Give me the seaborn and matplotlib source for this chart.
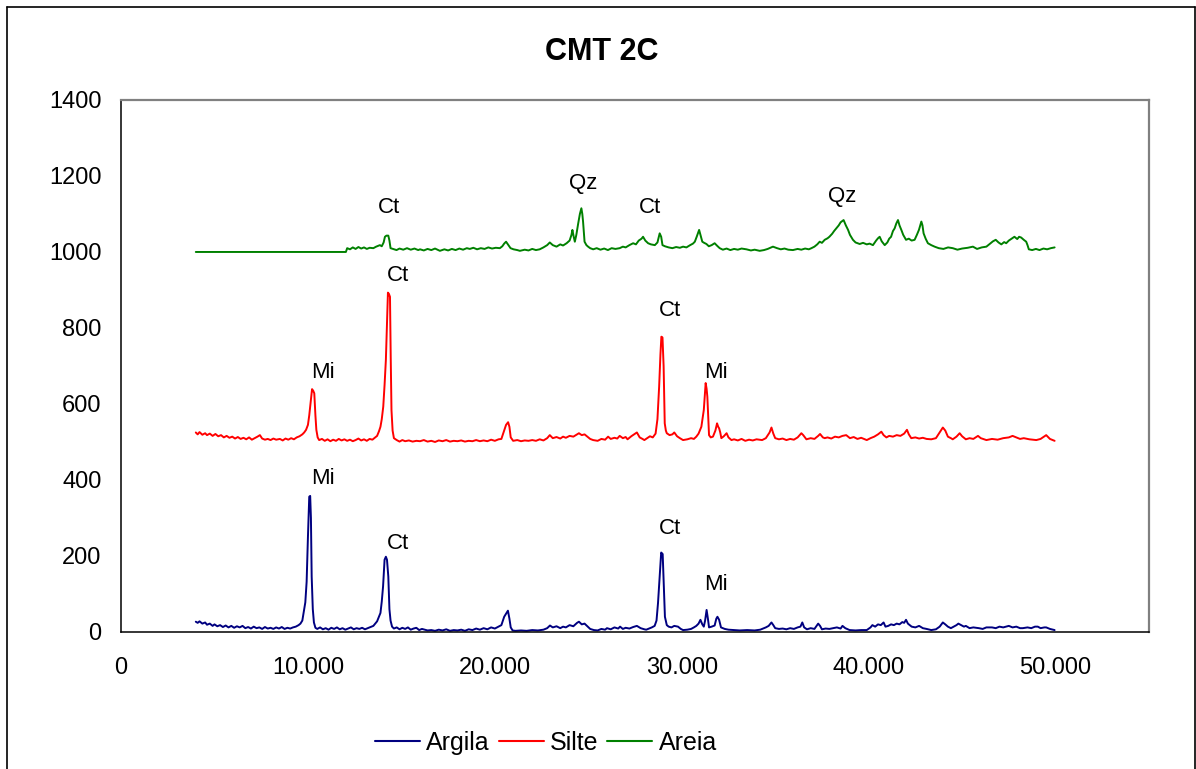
import pandas as pd
import numpy as np
from matplotlib import pyplot as plt
from matplotlib.lines import Line2D
import seaborn as sns

argila_2theta = [4.0, 4.1, 4.2, 4.35, 4.5, 4.6, 4.75, 4.9, 5.0, 5.15, 5.3, 5.45, 5.6, 5.75, 5.9, 6.05, 6.2, 6.35, 6.5, 6.65,
                 6.8, 6.95, 7.1, 7.25, 7.4, 7.55, 7.7, 7.85, 8.0, 8.15, 8.3, 8.45, 8.6, 8.75, 8.9, 9.05, 9.2, 9.35, 9.5, 9.6,
                 9.7, 9.8, 9.86, 9.93, 10.0, 10.07, 10.12, 10.16, 10.2, 10.26, 10.32, 10.4, 10.5, 10.65, 10.8, 10.95, 11.1, 11.25, 11.4, 11.55,
                 11.7, 11.85, 12.0, 12.15, 12.3, 12.45, 12.6, 12.75, 12.9, 13.05, 13.2, 13.35, 13.5, 13.6, 13.7, 13.8, 13.88, 13.95, 14.02, 14.1,
                 14.17, 14.23, 14.3, 14.36, 14.42, 14.5, 14.6, 14.75, 14.9, 15.05, 15.2, 15.35, 15.5, 15.65, 15.8, 15.95, 16.1, 16.25, 16.4, 16.6,
                 16.8, 17.0, 17.2, 17.4, 17.6, 17.8, 18.0, 18.2, 18.4, 18.6, 18.8, 19.0, 19.2, 19.4, 19.6, 19.8, 20.0, 20.2, 20.35, 20.5,
                 20.6, 20.7, 20.78, 20.85, 20.95, 21.1, 21.4, 21.7, 22.0, 22.3, 22.6, 22.8, 22.95, 23.1, 23.3, 23.5, 23.65, 23.8, 24.0, 24.2,
                 24.4, 24.5, 24.65, 24.8, 24.95, 25.1, 25.3, 25.5, 25.7, 25.9, 26.0, 26.2, 26.4, 26.6, 26.7, 26.85, 27.0, 27.2, 27.4, 27.6,
                 27.8, 28.0, 28.1, 28.25, 28.4, 28.55, 28.65, 28.73, 28.82, 28.9, 28.98, 29.04, 29.1, 29.2, 29.3, 29.45, 29.6, 29.8, 29.95, 30.07,
                 30.3, 30.5, 30.65, 30.78, 30.9, 31.0, 31.1, 31.18, 31.25, 31.33, 31.4, 31.46, 31.6, 31.76, 31.85, 31.91, 32.0, 32.1, 32.3, 32.5,
                 32.8, 33.1, 33.5, 33.9, 34.2, 34.5, 34.65, 34.8, 34.9, 35.0, 35.2, 35.4, 35.6, 35.8, 36.0, 36.2, 36.35, 36.45, 36.55, 36.7,
                 36.9, 37.1, 37.3, 37.4, 37.5, 37.7, 37.9, 38.1, 38.3, 38.5, 38.6, 38.75, 38.98, 39.3, 39.6, 39.9, 40.1, 40.2, 40.35, 40.5,
                 40.65, 40.8, 40.9, 41.05, 41.2, 41.35, 41.5, 41.65, 41.8, 41.9, 42.0, 42.1, 42.3, 42.5, 42.7, 42.9, 43.1, 43.35, 43.6, 43.8,
                 43.97, 44.1, 44.24, 44.4, 44.55, 44.7, 44.8, 44.95, 45.1, 45.2, 45.4, 45.6, 45.9, 46.1, 46.3, 46.6, 46.8, 47.0, 47.2, 47.5,
                 47.7, 47.9, 48.1, 48.25, 48.5, 48.7, 48.9, 49.05, 49.2, 49.4, 49.5, 49.7, 49.95]
argila_counts = [27, 24, 28, 22, 25, 19, 22, 16, 20, 15, 18, 13, 17, 12, 16, 11, 15, 12, 16, 10,
                 13, 9, 14, 10, 12, 8, 13, 9, 11, 8, 12, 9, 13, 8, 11, 9, 12, 14, 18, 22,
                 30, 60, 78, 132, 250, 356, 358, 300, 146, 60, 25, 11, 8, 12, 7, 10, 6, 11, 8, 12,
                 7, 10, 6, 9, 12, 7, 10, 8, 11, 7, 10, 13, 16, 22, 28, 40, 50, 80, 120, 190,
                 198, 190, 146, 60, 30, 14, 9, 12, 7, 11, 8, 12, 6, 9, 11, 5, 8, 6, 4, 5,
                 3, 6, 4, 7, 3, 5, 4, 6, 3, 7, 5, 9, 6, 10, 7, 12, 9, 14, 18, 40,
                 48, 56, 35, 12, 4, 3, 4, 3, 5, 4, 6, 10, 17, 12, 15, 10, 14, 12, 18, 15,
                 24, 27, 20, 22, 15, 8, 5, 4, 8, 6, 10, 7, 12, 9, 14, 8, 11, 9, 13, 16,
                 10, 7, 6, 9, 12, 16, 30, 76, 146, 209, 205, 120, 40, 18, 14, 12, 16, 14, 8, 5,
                 6, 8, 12, 16, 22, 32, 20, 14, 30, 58, 35, 12, 14, 17, 35, 40, 32, 12, 8, 6,
                 5, 4, 5, 4, 6, 12, 16, 25, 18, 10, 8, 9, 7, 10, 8, 12, 14, 25, 12, 7,
                 10, 8, 22, 16, 7, 9, 8, 10, 12, 9, 16, 10, 5, 4, 5, 5, 12, 18, 14, 20,
                 18, 25, 14, 16, 20, 18, 22, 20, 26, 24, 32, 22, 14, 12, 16, 10, 8, 5, 7, 14,
                 25, 20, 14, 10, 14, 18, 22, 18, 14, 16, 10, 12, 10, 8, 12, 12, 10, 14, 12, 16,
                 12, 14, 10, 10, 12, 10, 14, 14, 10, 12, 12, 8, 5]

silte_2theta = [4.0, 4.1, 4.2, 4.35, 4.5, 4.6, 4.75, 4.9, 5.05, 5.2, 5.35, 5.5, 5.65, 5.8, 5.95, 6.1, 6.25, 6.4, 6.55, 6.7,
                6.85, 7.0, 7.15, 7.3, 7.43, 7.55, 7.7, 7.85, 8.0, 8.15, 8.3, 8.5, 8.65, 8.8, 8.95, 9.1, 9.25, 9.4, 9.55, 9.7,
                9.8, 9.9, 10.0, 10.07, 10.14, 10.22, 10.28, 10.34, 10.4, 10.45, 10.52, 10.6, 10.75, 10.9, 11.05, 11.2, 11.35, 11.5, 11.65, 11.8,
                11.95, 12.1, 12.25, 12.4, 12.55, 12.7, 12.85, 13.0, 13.15, 13.3, 13.45, 13.6, 13.7, 13.8, 13.88, 13.95, 14.03, 14.1, 14.17, 14.22,
                14.28, 14.33, 14.39, 14.43, 14.47, 14.53, 14.6, 14.75, 14.9, 15.05, 15.2, 15.4, 15.6, 15.8, 16.0, 16.2, 16.4, 16.6, 16.8, 17.0,
                17.2, 17.4, 17.6, 17.8, 18.0, 18.2, 18.4, 18.6, 18.8, 19.0, 19.2, 19.4, 19.6, 19.8, 20.0, 20.2, 20.35, 20.5, 20.6, 20.71,
                20.78, 20.85, 20.98, 21.2, 21.4, 21.6, 21.8, 22.0, 22.2, 22.4, 22.6, 22.8, 22.94, 23.1, 23.3, 23.5, 23.65, 23.8, 24.0, 24.2,
                24.4, 24.5, 24.65, 24.8, 24.95, 25.1, 25.26, 25.5, 25.7, 25.9, 26.06, 26.2, 26.4, 26.55, 26.68, 26.85, 27.0, 27.1, 27.3, 27.45,
                27.6, 27.75, 27.9, 28.0, 28.15, 28.3, 28.45, 28.6, 28.7, 28.79, 28.86, 28.91, 28.97, 29.03, 29.09, 29.15, 29.2, 29.35, 29.5, 29.6,
                29.75, 29.9, 30.07, 30.3, 30.5, 30.65, 30.78, 30.9, 31.05, 31.18, 31.28, 31.33, 31.37, 31.42, 31.46, 31.55, 31.67, 31.8, 31.89, 31.95,
                32.0, 32.06, 32.12, 32.25, 32.4, 32.5, 32.66, 32.8, 33.0, 33.2, 33.4, 33.6, 33.8, 34.0, 34.3, 34.5, 34.7, 34.8, 34.9, 35.0,
                35.2, 35.4, 35.6, 35.8, 36.0, 36.2, 36.4, 36.5, 36.67, 36.9, 37.1, 37.3, 37.4, 37.55, 37.65, 37.8, 38.0, 38.2, 38.4, 38.6,
                38.8, 39.0, 39.2, 39.4, 39.6, 39.9, 40.1, 40.3, 40.5, 40.68, 40.8, 40.95, 41.1, 41.3, 41.5, 41.7, 41.9, 42.05, 42.15, 42.28,
                42.5, 42.7, 42.9, 43.1, 43.35, 43.6, 43.8, 43.97, 44.1, 44.24, 44.4, 44.5, 44.7, 44.87, 45.0, 45.2, 45.4, 45.6, 45.85, 46.0,
                46.3, 46.6, 46.9, 47.2, 47.5, 47.7, 47.9, 48.1, 48.3, 48.6, 48.97, 49.2, 49.35, 49.5, 49.7, 49.95]
silte_counts = [525, 520, 526, 519, 523, 518, 522, 516, 521, 515, 518, 512, 516, 511, 514, 509, 513, 508, 511, 507,
                512, 506, 510, 514, 518, 509, 506, 508, 505, 509, 506, 508, 504, 509, 506, 510, 507, 512, 515, 520,
                525, 532, 545, 570, 602, 639, 635, 628, 570, 532, 512, 505, 508, 503, 507, 502, 506, 503, 508, 504,
                507, 503, 506, 502, 505, 509, 504, 507, 503, 508, 506, 512, 516, 528, 540, 560, 593, 650, 716, 800,
                893, 890, 882, 720, 584, 530, 510, 505, 501, 505, 502, 504, 501, 503, 502, 505, 501, 503, 500, 504,
                502, 505, 501, 503, 502, 504, 501, 503, 502, 505, 502, 504, 502, 506, 503, 507, 508, 530, 545, 552,
                540, 512, 503, 505, 502, 504, 503, 505, 503, 507, 504, 510, 518, 510, 513, 509, 514, 511, 516, 514,
                520, 523, 518, 520, 514, 508, 505, 503, 508, 506, 514, 508, 511, 509, 516, 510, 513, 507, 515, 520,
                525, 512, 508, 505, 510, 515, 512, 522, 560, 645, 730, 777, 775, 700, 549, 530, 523, 518, 520, 525,
                515, 510, 505, 507, 510, 508, 514, 522, 540, 584, 655, 640, 619, 560, 518, 512, 514, 530, 549, 540,
                536, 525, 510, 515, 523, 512, 505, 507, 504, 508, 503, 506, 504, 507, 505, 510, 525, 538, 522, 510,
                507, 509, 505, 508, 506, 512, 523, 518, 507, 510, 508, 516, 521, 512, 510, 512, 509, 514, 512, 516,
                518, 510, 513, 508, 511, 505, 510, 514, 520, 527, 518, 512, 516, 514, 518, 516, 522, 532, 520, 510,
                512, 509, 511, 508, 507, 510, 525, 538, 530, 514, 510, 507, 514, 523, 515, 507, 510, 508, 516, 510,
                505, 508, 506, 510, 512, 516, 512, 508, 510, 507, 505, 508, 513, 518, 508, 503]

areia_2theta = [4.0, 12.03, 12.1, 12.25, 12.4, 12.55, 12.7, 12.85, 13.0, 13.15, 13.3, 13.5, 13.65, 13.85, 13.95, 14.05, 14.12, 14.2, 14.3, 14.36,
                14.42, 14.55, 14.74, 14.9, 15.1, 15.3, 15.5, 15.7, 15.9, 16.0, 16.2, 16.4, 16.6, 16.8, 17.06, 17.3, 17.5, 17.7, 17.9, 18.1,
                18.3, 18.5, 18.66, 18.85, 19.05, 19.25, 19.45, 19.65, 19.85, 20.05, 20.27, 20.4, 20.5, 20.6, 20.7, 20.84, 21.0, 21.2, 21.34, 21.6,
                21.8, 22.0, 22.2, 22.4, 22.6, 22.8, 22.94, 23.1, 23.3, 23.5, 23.65, 23.84, 24.0, 24.1, 24.15, 24.22, 24.28, 24.36, 24.46, 24.55,
                24.63, 24.68, 24.72, 24.77, 24.8, 24.9, 24.99, 25.1, 25.26, 25.45, 25.65, 25.85, 26.05, 26.25, 26.45, 26.68, 26.85, 27.0, 27.2, 27.4,
                27.55, 27.7, 27.85, 27.93, 28.05, 28.2, 28.35, 28.56, 28.7, 28.82, 28.9, 28.97, 29.1, 29.3, 29.5, 29.7, 29.9, 30.07, 30.25, 30.45,
                30.6, 30.7, 30.8, 30.93, 31.0, 31.1, 31.2, 31.32, 31.45, 31.6, 31.76, 31.9, 32.03, 32.2, 32.4, 32.6, 32.8, 33.0, 33.2, 33.46,
                33.7, 33.9, 34.17, 34.4, 34.6, 34.88, 35.1, 35.3, 35.5, 35.7, 35.95, 36.2, 36.4, 36.6, 36.8, 36.94, 37.1, 37.25, 37.38, 37.5,
                37.65, 37.8, 37.9, 38.05, 38.15, 38.27, 38.4, 38.5, 38.66, 38.78, 38.9, 39.0, 39.16, 39.3, 39.52, 39.7, 39.9, 40.05, 40.23, 40.4,
                40.5, 40.59, 40.7, 40.86, 41.0, 41.1, 41.2, 41.3, 41.39, 41.48, 41.57, 41.65, 41.75, 41.85, 42.0, 42.15, 42.3, 42.46, 42.58, 42.69,
                42.82, 42.88, 42.94, 43.05, 43.17, 43.35, 43.53, 43.75, 44.0, 44.25, 44.5, 44.75, 45.0, 45.3, 45.58, 45.8, 46.05, 46.3, 46.5, 46.65,
                46.8, 46.95, 47.1, 47.25, 47.36, 47.5, 47.65, 47.8, 47.95, 48.05, 48.16, 48.3, 48.43, 48.5, 48.57, 48.75, 48.95, 49.14, 49.35, 49.55,
                49.75, 49.95]
areia_counts = [1000, 1000, 1010, 1007, 1012, 1008, 1013, 1009, 1012, 1008, 1011, 1010, 1014, 1018, 1015, 1025, 1040, 1043, 1043, 1030,
                1010, 1008, 1005, 1009, 1006, 1010, 1006, 1009, 1005, 1007, 1004, 1008, 1005, 1009, 1003, 1007, 1004, 1008, 1005, 1009,
                1006, 1010, 1008, 1011, 1007, 1010, 1008, 1012, 1009, 1011, 1010, 1015, 1022, 1027, 1020, 1010, 1007, 1005, 1003, 1006,
                1004, 1008, 1005, 1007, 1012, 1018, 1025, 1018, 1014, 1020, 1017, 1023, 1030, 1045, 1058, 1040, 1027, 1045, 1075, 1100,
                1115, 1100, 1080, 1045, 1027, 1018, 1014, 1010, 1007, 1010, 1006, 1009, 1005, 1010, 1008, 1010, 1014, 1012, 1018, 1023,
                1020, 1030, 1035, 1040, 1030, 1023, 1020, 1018, 1025, 1049, 1040, 1018, 1015, 1012, 1010, 1013, 1011, 1014, 1012, 1018,
                1022, 1027, 1040, 1058, 1045, 1027, 1024, 1021, 1015, 1018, 1023, 1016, 1010, 1006, 1009, 1005, 1008, 1006, 1009, 1007,
                1004, 1006, 1003, 1005, 1008, 1014, 1010, 1007, 1009, 1006, 1005, 1008, 1006, 1009, 1007, 1010, 1014, 1020, 1027, 1024,
                1032, 1036, 1040, 1048, 1055, 1062, 1070, 1078, 1084, 1070, 1058, 1045, 1032, 1025, 1021, 1024, 1020, 1022, 1018, 1030,
                1036, 1040, 1028, 1018, 1025, 1035, 1040, 1055, 1062, 1075, 1084, 1070, 1058, 1045, 1032, 1035, 1030, 1032, 1045, 1058,
                1080, 1070, 1049, 1035, 1023, 1018, 1014, 1010, 1008, 1012, 1010, 1006, 1009, 1011, 1014, 1008, 1012, 1014, 1022, 1028,
                1032, 1025, 1020, 1026, 1023, 1030, 1035, 1040, 1034, 1040, 1038, 1032, 1027, 1018, 1007, 1005, 1008, 1005, 1009, 1007,
                1010, 1012]

series_names = ["Argila", "Silte", "Areia"]
series_colors = ["#000080", "#FF0000", "#008000"]

# rotulos dos picos (mineral, 2theta, contagem do texto)
peak_labels = ["Ct", "Qz", "Ct", "Qz",
               "Mi", "Ct", "Ct", "Mi",
               "Mi", "Ct", "Ct", "Mi"]
peak_label_x = [14.33, 24.71, 28.29, 38.56,
                10.8, 14.81, 29.36, 31.82,
                10.8, 14.81, 29.36, 31.82]
peak_label_y = [1116, 1179, 1116, 1145,
                682, 939, 845, 682,
                403, 234, 271, 126]

xtick_values = [0, 10, 20, 30, 40, 50]
xtick_labels = ["0", "10.000", "20.000", "30.000", "40.000", "50.000"]
ytick_values = [0, 200, 400, 600, 800, 1000, 1200, 1400]

frames = []
for name, xs, ys in zip(series_names,
                        [argila_2theta, silte_2theta, areia_2theta],
                        [argila_counts, silte_counts, areia_counts]):
    frames.append(pd.DataFrame({"2theta": xs, "counts": ys, "amostra": name}))
data = pd.concat(frames, ignore_index=True)

sns.set_style("white")
plt.rcParams["font.family"] = ["Liberation Sans", "DejaVu Sans"]
plt.rcParams["text.color"] = "black"

fig = plt.figure(figsize=(11.96, 7.69), dpi=100)
ax = fig.add_axes([0.1012, 0.1782, 0.8595, 0.6918])

sns.lineplot(data=data, x="2theta", y="counts", hue="amostra", hue_order=series_names,
             palette=series_colors, estimator=None, sort=False, linewidth=1.4, ax=ax, legend=False)

for lab, lx, ly in zip(peak_labels, peak_label_x, peak_label_y):
    ax.text(lx, ly, lab, fontsize=16, ha="center", va="center", color="black")

ax.set_xlim(0, 55)
ax.set_ylim(0, 1400)
ax.set_xticks(xtick_values)
ax.set_xticklabels(xtick_labels)
ax.set_yticks(ytick_values)
ax.set_yticklabels([str(v) for v in ytick_values])
ax.set_xlabel("")
ax.set_ylabel("")
ax.tick_params(axis="both", direction="out", length=6, width=1, color="black",
               labelsize=17, labelcolor="black")
ax.tick_params(axis="y", pad=8)
ax.tick_params(axis="x", pad=12)
ax.grid(False)

for side in ["left", "bottom"]:
    ax.spines[side].set_color("black")
    ax.spines[side].set_linewidth(1.1)
for side in ["top", "right"]:
    ax.spines[side].set_color("#808080")
    ax.spines[side].set_linewidth(1.6)

fig.text(0.503, 0.932, "CMT 2C", fontsize=22, fontweight="bold", ha="center", va="center", color="black")

handles = [Line2D([0], [0], color=c, linewidth=1.5) for c in series_colors]
fig.legend(handles, series_names, loc="center", bbox_to_anchor=(0.4565, 0.034), ncol=3,
           frameon=False, fontsize=18, handlelength=1.8, handletextpad=0.25, columnspacing=0.35,
           labelcolor="black")

# moldura do grafico (estilo Excel)
fig.add_artist(Line2D([0.006, 0.006], [0.0, 0.9905], transform=fig.transFigure, color="black", linewidth=1.2))
fig.add_artist(Line2D([0.006, 0.9992], [0.9905, 0.9905], transform=fig.transFigure, color="black", linewidth=1.2))
fig.add_artist(Line2D([0.9992, 0.9992], [0.0, 0.9905], transform=fig.transFigure, color="black", linewidth=1.2))

plt.savefig("out.png", dpi=100)
plt.close()
